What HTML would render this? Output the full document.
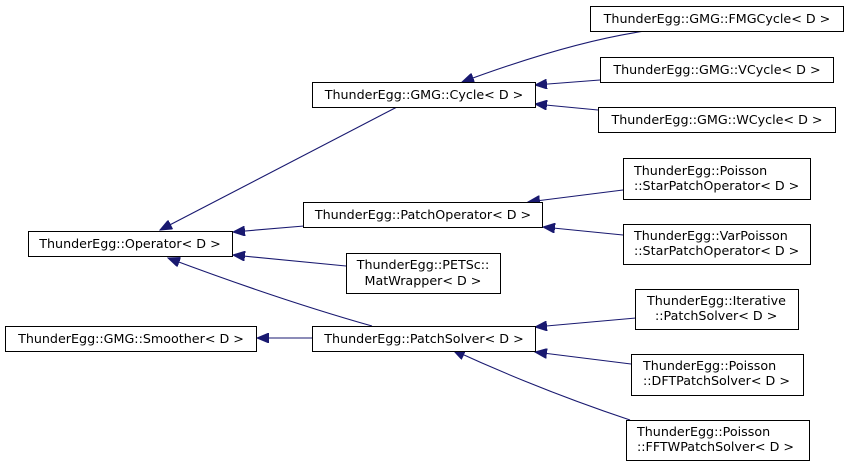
<!DOCTYPE html>
<html><head><meta charset="utf-8"><style>
html,body{margin:0;padding:0;background:#fff;}
svg text{font-family:"DejaVu Sans","Liberation Sans",sans-serif;font-size:12.7px;fill:#000;}
</style></head><body>
<svg width="849" height="466" viewBox="0 0 849 466" xmlns="http://www.w3.org/2000/svg">
<defs><marker id="a" markerWidth="13" markerHeight="10" refX="12" refY="5" orient="auto" markerUnits="userSpaceOnUse"><path d="M0,0 L12,5 L0,10 Z" fill="#191970" stroke="#191970"/></marker></defs>
<g fill="none" stroke="#191970" stroke-width="1.1">
<path d="M397,107 L160,230" marker-end="url(#a)"/>
<path d="M304,226 L233,232" marker-end="url(#a)"/>
<path d="M346,266 L233,255" marker-end="url(#a)"/>
<path d="M372,326 Q280,300 168,258" marker-end="url(#a)"/>
<path d="M312,338 L257,338" marker-end="url(#a)"/>
<path d="M645,31 Q570,42 462,82" marker-end="url(#a)"/>
<path d="M600,80 L535,85" marker-end="url(#a)"/>
<path d="M598,110 L535,104" marker-end="url(#a)"/>
<path d="M623,190 L528,202" marker-end="url(#a)"/>
<path d="M623,235 L543,227" marker-end="url(#a)"/>
<path d="M636,318 L535,327" marker-end="url(#a)"/>
<path d="M631,364 L535,352" marker-end="url(#a)"/>
<path d="M630,420 Q540,390 453,350" marker-end="url(#a)"/>
</g>
<g fill="#fff" stroke="#000" stroke-width="1">
<rect x="590.5" y="6.5" width="253" height="25"/>
<rect x="600.5" y="57.5" width="233" height="25"/>
<rect x="598.5" y="107.5" width="237" height="25"/>
<rect x="312.5" y="82.5" width="223" height="25"/>
<rect x="623.5" y="158.5" width="187" height="41"/>
<rect x="623.5" y="224.5" width="187" height="40"/>
<rect x="303.5" y="202.5" width="239" height="25"/>
<rect x="28.5" y="231.5" width="204" height="25"/>
<rect x="346.5" y="253.5" width="154" height="40"/>
<rect x="5.5" y="326.5" width="251" height="25"/>
<rect x="312.5" y="326.5" width="223" height="25"/>
<rect x="635.5" y="289.5" width="163" height="40"/>
<rect x="631.5" y="354.5" width="172" height="41"/>
<rect x="626.5" y="420.5" width="183" height="40"/>
</g>
<g fill="none" stroke="none"></g>
<g text-anchor="middle">
<text x="717" y="23">ThunderEgg::GMG::FMGCycle&lt; D &gt;</text>
<text x="717" y="74">ThunderEgg::GMG::VCycle&lt; D &gt;</text>
<text x="717" y="124">ThunderEgg::GMG::WCycle&lt; D &gt;</text>
<text x="424" y="99">ThunderEgg::GMG::Cycle&lt; D &gt;</text>
<text x="423" y="219">ThunderEgg::PatchOperator&lt; D &gt;</text>
<text x="130" y="248">ThunderEgg::Operator&lt; D &gt;</text>
<text x="131" y="343">ThunderEgg::GMG::Smoother&lt; D &gt;</text>
<text x="424" y="343">ThunderEgg::PatchSolver&lt; D &gt;</text>
<text x="423" y="269">ThunderEgg::PETSc::</text>
<text x="423" y="285">MatWrapper&lt; D &gt;</text>
</g>
<g text-anchor="start">
<text x="634" y="175">ThunderEgg::Poisson</text>
<text x="634" y="190">::StarPatchOperator&lt; D &gt;</text>
<text x="634" y="240">ThunderEgg::VarPoisson</text>
<text x="634" y="255">::StarPatchOperator&lt; D &gt;</text>
<text x="647" y="305">ThunderEgg::Iterative</text>
<text x="655" y="320">::PatchSolver&lt; D &gt;</text>
<text x="643" y="370">ThunderEgg::Poisson</text>
<text x="643" y="385">::DFTPatchSolver&lt; D &gt;</text>
<text x="637" y="436">ThunderEgg::Poisson</text>
<text x="637" y="451">::FFTWPatchSolver&lt; D &gt;</text>
</g>
</svg>
</body></html>
